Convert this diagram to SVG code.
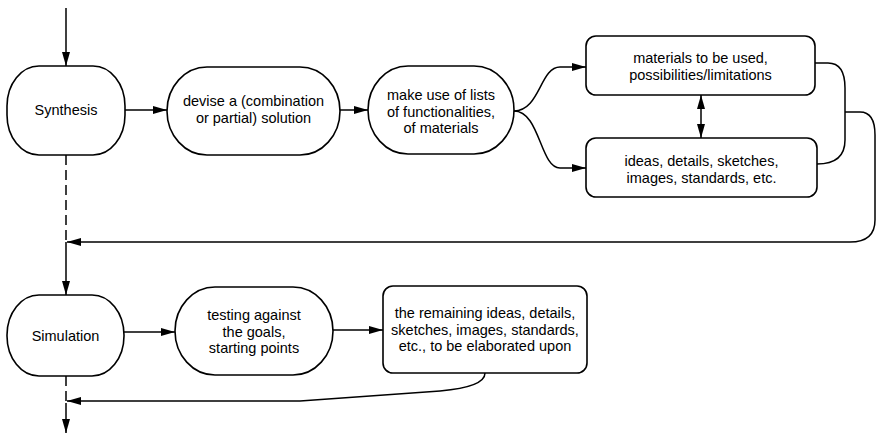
<svg xmlns="http://www.w3.org/2000/svg" width="880" height="433" viewBox="0 0 880 433">
  <defs>
    <marker id="arr" viewBox="0 0 14 8" refX="14" refY="4" markerWidth="14" markerHeight="8" markerUnits="userSpaceOnUse" orient="auto-start-reverse">
      <path d="M0,0 L14,4 L0,8 Z" fill="#000"/>
    </marker>
  </defs>
  <style>
    .node { fill: #fff; stroke: #000; stroke-width: 1.6; }
    .lbl { font-family: "Liberation Sans", Arial, sans-serif; font-size: 14.5px; fill: #000; text-anchor: middle; }
    .edge { fill: none; stroke: #000; stroke-width: 1.5; }
    .dash { fill: none; stroke: #000; stroke-width: 1.5; stroke-dasharray: 10 5; }
  </style>

  <g id="connectors">
    <!-- main vertical flow -->
    <path class="edge" d="M66,8 V66" marker-end="url(#arr)"/>
    <path class="dash" d="M66,155 V242"/>
    <path class="edge" d="M66,242 V295" marker-end="url(#arr)"/>
    <path class="dash" d="M66,376 V403"/>
    <path class="edge" d="M66,403 V433" marker-end="url(#arr)"/>
    <!-- synthesis row -->
    <path class="edge" d="M125,110 H167" marker-end="url(#arr)"/>
    <path class="edge" d="M340,110 H368" marker-end="url(#arr)"/>
    <path class="edge" d="M514,111 C540,111 540,67 560,67 H586" marker-end="url(#arr)"/>
    <path class="edge" d="M514,111 C540,111 540,168 560,168 H586" marker-end="url(#arr)"/>
    <path class="edge" d="M701,95 V138" marker-start="url(#arr)" marker-end="url(#arr)"/>
    <path class="edge" d="M815,63 H828 Q845,63 845,88 V140 Q845,164 817,164"/>
    <path class="edge" d="M845,112 H860 Q875,112 875,135 V220 Q875,242 850,242 H67" marker-end="url(#arr)"/>
    <!-- simulation row -->
    <path class="edge" d="M124,332 H175" marker-end="url(#arr)"/>
    <path class="edge" d="M333,330 H383" marker-end="url(#arr)"/>
    <path class="edge" d="M485,373 Q485,387 440,391 L300,401 H67" marker-end="url(#arr)"/>
  </g>

  <g id="synthesis">
    <rect class="node" x="7" y="66" width="118" height="89" rx="32" ry="40"/>
    <text class="lbl" x="66" y="115">Synthesis</text>
  </g>
  <g id="devise">
    <rect class="node" x="167" y="67" width="173" height="88" rx="40" ry="44"/>
    <text class="lbl" x="253.5" y="106">devise a (combination</text>
    <text class="lbl" x="253.5" y="123">or partial) solution</text>
  </g>
  <g id="make-use">
    <rect class="node" x="368" y="66" width="146" height="88" rx="40" ry="44"/>
    <text class="lbl" x="441" y="100">make use of lists</text>
    <text class="lbl" x="441" y="116.5">of functionalities,</text>
    <text class="lbl" x="441" y="133">of materials</text>
  </g>
  <g id="materials">
    <rect class="node" x="586" y="36" width="229" height="59" rx="10"/>
    <text class="lbl" x="700.5" y="63">materials to be used,</text>
    <text class="lbl" x="700.5" y="79.5">possibilities/limitations</text>
  </g>
  <g id="ideas">
    <rect class="node" x="586" y="138" width="231" height="59" rx="10"/>
    <text class="lbl" x="701.5" y="166">ideas, details, sketches,</text>
    <text class="lbl" x="701.5" y="182.5">images, standards, etc.</text>
  </g>
  <g id="simulation">
    <rect class="node" x="7" y="295" width="117" height="81" rx="32" ry="40"/>
    <text class="lbl" x="65.5" y="341">Simulation</text>
  </g>
  <g id="testing">
    <rect class="node" x="175" y="287" width="158" height="88" rx="40" ry="44"/>
    <text class="lbl" x="254" y="320">testing against</text>
    <text class="lbl" x="254" y="336.5">the goals,</text>
    <text class="lbl" x="254" y="353">starting points</text>
  </g>
  <g id="remaining">
    <rect class="node" x="383" y="286" width="204" height="87" rx="10"/>
    <text class="lbl" x="485" y="318">the remaining ideas, details,</text>
    <text class="lbl" x="485" y="334.5">sketches, images, standards,</text>
    <text class="lbl" x="485" y="351">etc., to be elaborated upon</text>
  </g>
</svg>
